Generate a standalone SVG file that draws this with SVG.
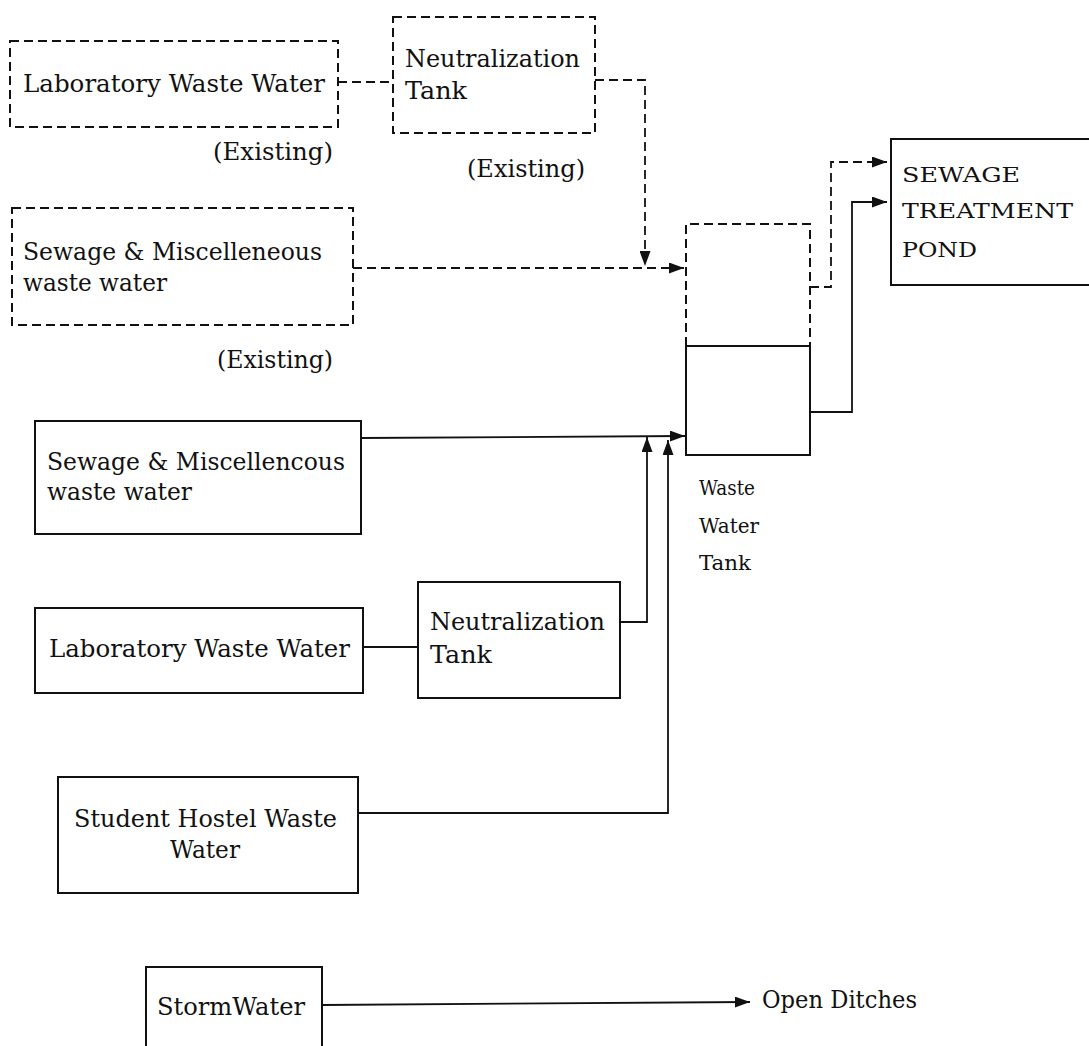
<svg xmlns="http://www.w3.org/2000/svg" width="1089" height="1046" viewBox="0 0 1089 1046">
<style>
.box{fill:none;stroke:#111;stroke-width:2}
.dash{stroke-dasharray:9 5}
.t{font-family:"DejaVu Serif","Liberation Serif",serif;font-size:24.5px;fill:#111}
.s{font-family:"DejaVu Serif","Liberation Serif",serif;font-size:21px;fill:#111}
.ln{fill:none;stroke:#111;stroke-width:1.8}
</style>
<defs>
<marker id="ah" viewBox="0 0 15 11" refX="15" refY="5.5" markerWidth="15" markerHeight="11" markerUnits="userSpaceOnUse" orient="auto">
<path d="M0,0 L15,5.5 L0,11 Z" fill="#111"/>
</marker>
</defs>
<rect width="1089" height="1046" fill="#fff"/>

<g id="connectors">
<path class="ln dash" d="M338,82 H393"/>
<path class="ln dash" d="M595,80 H645 V266" marker-end="url(#ah)"/>
<path class="ln dash" d="M353,268 H684" marker-end="url(#ah)"/>
<path class="ln" d="M361,438 L685,436" marker-end="url(#ah)"/>
<path class="ln" d="M363,647 H418"/>
<path class="ln" d="M620,622 H647 V437" marker-end="url(#ah)"/>
<path class="ln" d="M358,813 H668 V440" marker-end="url(#ah)"/>
<path class="ln dash" d="M810,287 H831 V162 H887" marker-end="url(#ah)"/>
<path class="ln" d="M810,412 H852 V202 H887" marker-end="url(#ah)"/>
<path class="ln" d="M322,1005 L750,1002" marker-end="url(#ah)"/>
</g>

<g id="lab-existing">
<rect class="box dash" x="10" y="41" width="328" height="86"/>
<text class="t" x="23" y="92" textLength="302" lengthAdjust="spacingAndGlyphs">Laboratory Waste Water</text>
<text class="t" x="213" y="160" textLength="120" lengthAdjust="spacingAndGlyphs">(Existing)</text>
</g>

<g id="neut-existing">
<rect class="box dash" x="393" y="17" width="202" height="116"/>
<text class="t" x="405" y="67" textLength="175" lengthAdjust="spacingAndGlyphs">Neutralization</text>
<text class="t" x="405" y="99" textLength="62" lengthAdjust="spacingAndGlyphs">Tank</text>
<text class="t" x="467" y="177" textLength="118" lengthAdjust="spacingAndGlyphs">(Existing)</text>
</g>

<g id="sewage-existing">
<rect class="box dash" x="12" y="208" width="341" height="117"/>
<text class="t" x="23" y="260" textLength="299" lengthAdjust="spacingAndGlyphs">Sewage &amp; Miscelleneous</text>
<text class="t" x="23" y="291" textLength="144" lengthAdjust="spacingAndGlyphs">waste water</text>
<text class="t" x="217" y="368" textLength="116" lengthAdjust="spacingAndGlyphs">(Existing)</text>
</g>

<g id="sewage-new">
<rect class="box" x="35" y="421" width="326" height="113"/>
<text class="t" x="47" y="470" textLength="298" lengthAdjust="spacingAndGlyphs">Sewage &amp; Miscellencous</text>
<text class="t" x="47" y="500" textLength="145" lengthAdjust="spacingAndGlyphs">waste water</text>
</g>

<g id="lab-new">
<rect class="box" x="35" y="608" width="328" height="85"/>
<text class="t" x="49" y="657" textLength="301" lengthAdjust="spacingAndGlyphs">Laboratory Waste Water</text>
</g>

<g id="neut-new">
<rect class="box" x="418" y="582" width="202" height="116"/>
<text class="t" x="430" y="630" textLength="175" lengthAdjust="spacingAndGlyphs">Neutralization</text>
<text class="t" x="430" y="663" textLength="62" lengthAdjust="spacingAndGlyphs">Tank</text>
</g>

<g id="hostel">
<rect class="box" x="58" y="777" width="300" height="116"/>
<text class="t" x="74" y="827" textLength="263" lengthAdjust="spacingAndGlyphs">Student Hostel Waste</text>
<text class="t" x="170" y="858" textLength="70" lengthAdjust="spacingAndGlyphs">Water</text>
</g>

<g id="storm">
<rect class="box" x="146" y="967" width="176" height="100"/>
<text class="t" x="157" y="1015" textLength="148" lengthAdjust="spacingAndGlyphs">StormWater</text>
</g>

<g id="tank">
<path class="box dash" d="M686,346 V224 H810 V346"/>
<path class="box" d="M686,346 H810"/>
<path class="box" d="M686,346 V455 H810 V346"/>
<text class="s" x="699" y="495" textLength="56" lengthAdjust="spacingAndGlyphs">Waste</text>
<text class="s" x="699" y="533" textLength="60" lengthAdjust="spacingAndGlyphs">Water</text>
<text class="s" x="699" y="570" textLength="52" lengthAdjust="spacingAndGlyphs">Tank</text>
</g>

<g id="stp">
<rect class="box" x="891" y="139" width="210" height="146"/>
<text class="s" x="902" y="182" textLength="118" lengthAdjust="spacingAndGlyphs">SEWAGE</text>
<text class="s" x="902" y="218" textLength="171" lengthAdjust="spacingAndGlyphs">TREATMENT</text>
<text class="s" x="902" y="257" textLength="75" lengthAdjust="spacingAndGlyphs">POND</text>
</g>

<g id="open-ditches">
<text class="t" x="762" y="1008" textLength="155" lengthAdjust="spacingAndGlyphs">Open Ditches</text>
</g>
</svg>
